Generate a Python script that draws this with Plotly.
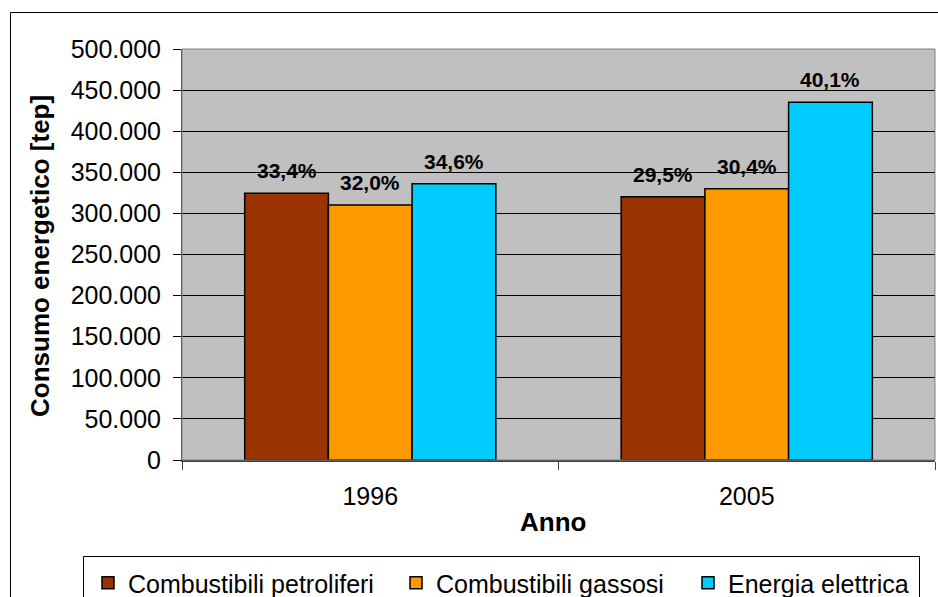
import plotly.graph_objects as go

# ---- data ----
years = ["1996", "2005"]
series_names = ["Combustibili petroliferi", "Combustibili gassosi", "Energia elettrica"]
petroliferi = [324400, 320300]
gassosi = [310200, 330000]
elettrica = [336100, 435200]
pct_petroliferi = ["33,4%", "29,5%"]
pct_gassosi = ["32,0%", "30,4%"]
pct_elettrica = ["34,6%", "40,1%"]
y_ticks = [0, 50000, 100000, 150000, 200000, 250000, 300000, 350000, 400000, 450000, 500000]

values = [petroliferi, gassosi, elettrica]
pcts = [pct_petroliferi, pct_gassosi, pct_elettrica]
colors = ["#993300", "#FF9900", "#00CCFF"]
legend_widths = [263, 247, 190]

FONT = "Liberation Sans, Arial, sans-serif"
W, H = 938, 597
ML, MR, MT, MB = 182, 3, 49, 137
PW = W - ML - MR
PH = H - MT - MB
BARGAP = 0.333

fig = go.Figure()
for name, vals, col, lw in zip(series_names, values, colors, legend_widths):
    fig.add_trace(go.Bar(
        x=years, y=vals, name=name,
        marker=dict(color=col, line=dict(color="#000000", width=1.5)),
        legendwidth=lw,
    ))

# percentage labels above bars
n = len(values)
bw = (1 - BARGAP) / n
annotations = []
for j, (vals, labs) in enumerate(zip(values, pcts)):
    for i, (v, lab) in enumerate(zip(vals, labs)):
        annotations.append(dict(
            x=i + (j - (n - 1) / 2) * bw, y=v, xref="x", yref="y",
            text="<b>%s</b>" % lab, showarrow=False,
            xanchor="center", yanchor="bottom", yshift=9,
            font=dict(family=FONT, size=21, color="#000000"),
        ))

def px_x(px):
    return (px - ML) / PW

def px_y(py):
    return (H - MB - py) / PH

# axis titles
annotations.append(dict(
    x=px_x(40), y=px_y(256), xref="paper", yref="paper",
    text="<b>Consumo energetico [tep]</b>", textangle=-90, showarrow=False,
    xanchor="center", yanchor="middle",
    font=dict(family=FONT, size=26, color="#000000"),
))
annotations.append(dict(
    x=px_x(552.5), y=px_y(522), xref="paper", yref="paper",
    text="<b>Anno</b>", showarrow=False,
    xanchor="center", yanchor="middle",
    font=dict(family=FONT, size=26, color="#000000"),
))

shapes = [
    # plot area border
    dict(type="rect", xref="paper", yref="paper", x0=0, x1=1, y0=0, y1=1,
         line=dict(color="#808080", width=1), layer="above"),
    # outer chart frame
    dict(type="rect", xref="paper", yref="paper",
         x0=px_x(10.5), x1=px_x(945), y0=px_y(610), y1=px_y(12.5),
         line=dict(color="#000000", width=1), layer="below"),
    # legend frame
    dict(type="rect", xref="paper", yref="paper",
         x0=px_x(83.5), x1=px_x(919.5), y0=px_y(610), y1=px_y(556.5),
         line=dict(color="#000000", width=1), layer="below"),
]

fig.update_layout(
    width=W, height=H,
    margin=dict(l=ML, r=MR, t=MT, b=MB, pad=0, autoexpand=False),
    paper_bgcolor="#FFFFFF", plot_bgcolor="#C0C0C0",
    barmode="group", bargap=BARGAP, bargroupgap=0,
    separators=",.",
    font=dict(family=FONT, size=25, color="#000000"),
    showlegend=True,
    legend=dict(
        orientation="h", xref="paper", yref="paper",
        x=px_x(88), y=px_y(560), xanchor="left", yanchor="top",
        font=dict(family=FONT, size=25, color="#000000"),
        bgcolor="rgba(0,0,0,0)", borderwidth=0,
    ),
    annotations=annotations,
    shapes=shapes,
    xaxis=dict(
        type="category", showline=True, linecolor="#404040", linewidth=1.5,
        ticks="outside", ticklen=8, tickcolor="#404040", tickson="boundaries",
        showgrid=False, tickfont=dict(family=FONT, size=25, color="#000000"),
        ticklabelstandoff=13, mirror=False,
    ),
    yaxis=dict(
        range=[0, 500000], tickvals=y_ticks, tickformat=",d",
        showline=True, linecolor="#404040", linewidth=1,
        ticks="outside", ticklen=8, tickcolor="#000000",
        showgrid=True, gridcolor="#000000", gridwidth=1,
        zeroline=False, tickfont=dict(family=FONT, size=25, color="#000000"),
        ticklabelstandoff=7,
    ),
)

fig.write_html(
    "out.html",
    config={"displayModeBar": False},
    post_script="document.body.style.margin='0';document.body.style.overflow='hidden';",
)
